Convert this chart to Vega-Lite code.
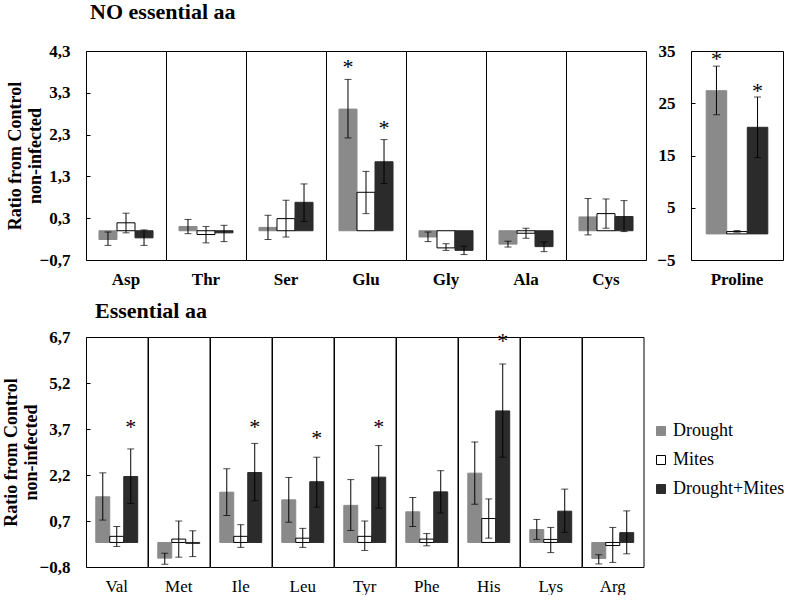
{
  "$schema": "https://vega.github.io/schema/vega-lite/v6.json",
  "padding": {"left": 2, "top": 1, "right": 0, "bottom": 0},
  "datasets": {
    "top": [
      {"aa": "Asp", "group": "Drought", "value": -0.21, "lo": -0.35, "hi": -0.03, "star": null},
      {"aa": "Asp", "group": "Mites", "value": 0.19, "lo": -0.05, "hi": 0.42, "star": null},
      {"aa": "Asp", "group": "Drought+Mites", "value": -0.17, "lo": -0.35, "hi": 0.02, "star": null},
      {"aa": "Thr", "group": "Drought", "value": 0.10, "lo": -0.07, "hi": 0.27, "star": null},
      {"aa": "Thr", "group": "Mites", "value": -0.09, "lo": -0.29, "hi": 0.10, "star": null},
      {"aa": "Thr", "group": "Drought+Mites", "value": -0.05, "lo": -0.26, "hi": 0.13, "star": null},
      {"aa": "Ser", "group": "Drought", "value": 0.08, "lo": -0.21, "hi": 0.37, "star": null},
      {"aa": "Ser", "group": "Mites", "value": 0.29, "lo": -0.15, "hi": 0.73, "star": null},
      {"aa": "Ser", "group": "Drought+Mites", "value": 0.68, "lo": 0.22, "hi": 1.12, "star": null},
      {"aa": "Glu", "group": "Drought", "value": 2.91, "lo": 2.22, "hi": 3.62, "star": 3.92},
      {"aa": "Glu", "group": "Mites", "value": 0.92, "lo": 0.41, "hi": 1.42, "star": null},
      {"aa": "Glu", "group": "Drought+Mites", "value": 1.65, "lo": 1.13, "hi": 2.18, "star": 2.46},
      {"aa": "Gly", "group": "Drought", "value": -0.15, "lo": -0.26, "hi": -0.03, "star": null},
      {"aa": "Gly", "group": "Mites", "value": -0.41, "lo": -0.47, "hi": -0.31, "star": null},
      {"aa": "Gly", "group": "Drought+Mites", "value": -0.47, "lo": -0.57, "hi": -0.37, "star": null},
      {"aa": "Ala", "group": "Drought", "value": -0.32, "lo": -0.39, "hi": -0.25, "star": null},
      {"aa": "Ala", "group": "Mites", "value": -0.06, "lo": -0.18, "hi": 0.06, "star": null},
      {"aa": "Ala", "group": "Drought+Mites", "value": -0.38, "lo": -0.50, "hi": -0.27, "star": null},
      {"aa": "Cys", "group": "Drought", "value": 0.33, "lo": -0.10, "hi": 0.77, "star": null},
      {"aa": "Cys", "group": "Mites", "value": 0.41, "lo": 0.06, "hi": 0.76, "star": null},
      {"aa": "Cys", "group": "Drought+Mites", "value": 0.34, "lo": -0.02, "hi": 0.72, "star": null}
    ],
    "pro": [
      {"aa": "Proline", "group": "Drought", "value": 27.4, "lo": 22.8, "hi": 32.1, "star": 33.4},
      {"aa": "Proline", "group": "Mites", "value": 0.44, "lo": 0.32, "hi": 0.63, "star": null},
      {"aa": "Proline", "group": "Drought+Mites", "value": 20.4, "lo": 14.6, "hi": 26.2, "star": 27.3}
    ],
    "bot": [
      {"aa": "Val", "group": "Drought", "value": 1.49, "lo": 0.73, "hi": 2.27, "star": null},
      {"aa": "Val", "group": "Mites", "value": 0.20, "lo": -0.13, "hi": 0.52, "star": null},
      {"aa": "Val", "group": "Drought+Mites", "value": 2.15, "lo": 1.27, "hi": 3.05, "star": 3.73},
      {"aa": "Met", "group": "Drought", "value": -0.51, "lo": -0.71, "hi": -0.35, "star": null},
      {"aa": "Met", "group": "Mites", "value": 0.11, "lo": -0.48, "hi": 0.70, "star": null},
      {"aa": "Met", "group": "Drought+Mites", "value": -0.03, "lo": -0.46, "hi": 0.38, "star": null},
      {"aa": "Ile", "group": "Drought", "value": 1.64, "lo": 0.88, "hi": 2.40, "star": null},
      {"aa": "Ile", "group": "Mites", "value": 0.20, "lo": -0.16, "hi": 0.58, "star": null},
      {"aa": "Ile", "group": "Drought+Mites", "value": 2.28, "lo": 1.36, "hi": 3.23, "star": 3.73},
      {"aa": "Leu", "group": "Drought", "value": 1.39, "lo": 0.66, "hi": 2.12, "star": null},
      {"aa": "Leu", "group": "Mites", "value": 0.14, "lo": -0.16, "hi": 0.46, "star": null},
      {"aa": "Leu", "group": "Drought+Mites", "value": 1.98, "lo": 1.15, "hi": 2.78, "star": 3.38},
      {"aa": "Tyr", "group": "Drought", "value": 1.21, "lo": 0.39, "hi": 2.05, "star": null},
      {"aa": "Tyr", "group": "Mites", "value": 0.20, "lo": -0.26, "hi": 0.70, "star": null},
      {"aa": "Tyr", "group": "Drought+Mites", "value": 2.13, "lo": 1.12, "hi": 3.16, "star": 3.73},
      {"aa": "Phe", "group": "Drought", "value": 1.00, "lo": 0.52, "hi": 1.47, "star": null},
      {"aa": "Phe", "group": "Mites", "value": 0.11, "lo": -0.11, "hi": 0.29, "star": null},
      {"aa": "Phe", "group": "Drought+Mites", "value": 1.65, "lo": 0.96, "hi": 2.34, "star": null},
      {"aa": "His", "group": "Drought", "value": 2.26, "lo": 1.25, "hi": 3.28, "star": null},
      {"aa": "His", "group": "Mites", "value": 0.78, "lo": 0.14, "hi": 1.42, "star": null},
      {"aa": "His", "group": "Drought+Mites", "value": 4.29, "lo": 2.78, "hi": 5.82, "star": 6.55},
      {"aa": "Lys", "group": "Drought", "value": 0.42, "lo": 0.10, "hi": 0.75, "star": null},
      {"aa": "Lys", "group": "Mites", "value": 0.10, "lo": -0.33, "hi": 0.49, "star": null},
      {"aa": "Lys", "group": "Drought+Mites", "value": 1.02, "lo": 0.33, "hi": 1.74, "star": null},
      {"aa": "Arg", "group": "Drought", "value": -0.52, "lo": -0.70, "hi": -0.40, "star": null},
      {"aa": "Arg", "group": "Mites", "value": -0.10, "lo": -0.65, "hi": 0.49, "star": null},
      {"aa": "Arg", "group": "Drought+Mites", "value": 0.32, "lo": -0.37, "hi": 1.03, "star": null}
    ]
  },
  "vconcat": [
    {
      "title": {"text": "NO essential aa", "anchor": "start", "dx": 84, "offset": 18},
      "spacing": 9,
      "hconcat": [
        {
          "data": {"name": "top"},
          "spacing": 0,
          "bounds": "flush",
          "facet": {
            "column": {
              "field": "aa", "type": "nominal", "title": null,
              "sort": ["Asp", "Thr", "Ser", "Glu", "Gly", "Ala", "Cys"],
              "header": {"labelOrient": "bottom", "labelFontWeight": "bold", "labelPadding": 12}
            }
          },
          "spec": {
            "width": 80, "height": 209,
            "encoding": {
              "x": {"field": "group", "type": "nominal", "axis": null,
                "scale": {"domain": ["Drought", "Mites", "Drought+Mites"], "paddingInner": 0, "paddingOuter": 0.72}}
            },
            "layer": [
              {
                "mark": {"type": "bar", "strokeWidth": 1},
                "encoding": {
                  "y": {"field": "value", "type": "quantitative",
                    "scale": {"domain": [-0.7, 4.3], "nice": false, "zero": false},
                    "axis": {"values": [-0.7, 0.3, 1.3, 2.3, 3.3, 4.3],
                      "labelExpr": "replace(format(datum.value, '.1f'), '.', ',')",
                      "title": ["Ratio from Control", "non-infected"]}},
                  "fill": {"field": "group", "type": "nominal",
                    "scale": {"domain": ["Drought", "Mites", "Drought+Mites"], "range": ["#8a8a8a", "#ffffff", "#2b2b2b"]}},
                  "stroke": {"field": "group", "type": "nominal",
                    "scale": {"domain": ["Drought", "Mites", "Drought+Mites"], "range": ["#8a8a8a", "#000000", "#2b2b2b"]}}
                }
              },
              {"mark": {"type": "rule", "color": "black", "strokeWidth": 1}, "encoding": {"y": {"datum": 0}}},
              {"mark": {"type": "rule", "color": "black", "strokeWidth": 1},
                "encoding": {"y": {"field": "lo", "type": "quantitative"}, "y2": {"field": "hi"}}},
              {"mark": {"type": "tick", "color": "black", "size": 7, "thickness": 1},
                "encoding": {"y": {"field": "lo", "type": "quantitative"}}},
              {"mark": {"type": "tick", "color": "black", "size": 7, "thickness": 1},
                "encoding": {"y": {"field": "hi", "type": "quantitative"}}},
              {"transform": [{"filter": "datum.star != null"}],
                "mark": {"type": "text", "text": "*", "fontSize": 22, "baseline": "middle", "dy": 0},
                "encoding": {"y": {"field": "star", "type": "quantitative"}}}
            ]
          }
        },
        {
          "data": {"name": "pro"},
          "spacing": 0,
          "bounds": "flush",
          "facet": {
            "column": {
              "field": "aa", "type": "nominal", "title": null,
              "header": {"labelOrient": "bottom", "labelFontWeight": "bold", "labelPadding": 12}
            }
          },
          "spec": {
            "width": 92, "height": 209,
            "encoding": {
              "x": {"field": "group", "type": "nominal", "axis": null,
                "scale": {"domain": ["Drought", "Mites", "Drought+Mites"], "paddingInner": 0, "paddingOuter": 0.74}}
            },
            "layer": [
              {
                "mark": {"type": "bar", "strokeWidth": 1},
                "encoding": {
                  "y": {"field": "value", "type": "quantitative",
                    "scale": {"domain": [-5, 35], "nice": false, "zero": false},
                    "axis": {"values": [-5, 5, 15, 25, 35], "format": "d", "title": null}},
                  "fill": {"field": "group", "type": "nominal",
                    "scale": {"domain": ["Drought", "Mites", "Drought+Mites"], "range": ["#8a8a8a", "#ffffff", "#2b2b2b"]}},
                  "stroke": {"field": "group", "type": "nominal",
                    "scale": {"domain": ["Drought", "Mites", "Drought+Mites"], "range": ["#8a8a8a", "#000000", "#2b2b2b"]}}
                }
              },
              {"mark": {"type": "rule", "color": "black", "strokeWidth": 1}, "encoding": {"y": {"datum": 0}}},
              {"mark": {"type": "rule", "color": "black", "strokeWidth": 1},
                "encoding": {"y": {"field": "lo", "type": "quantitative"}, "y2": {"field": "hi"}}},
              {"mark": {"type": "tick", "color": "black", "size": 7, "thickness": 1},
                "encoding": {"y": {"field": "lo", "type": "quantitative"}}},
              {"mark": {"type": "tick", "color": "black", "size": 7, "thickness": 1},
                "encoding": {"y": {"field": "hi", "type": "quantitative"}}},
              {"transform": [{"filter": "datum.star != null"}],
                "mark": {"type": "text", "text": "*", "fontSize": 22, "baseline": "middle", "dy": 0},
                "encoding": {"y": {"field": "star", "type": "quantitative"}}}
            ]
          }
        }
      ]
    },
    {
      "title": {"text": "Essential aa", "anchor": "start", "dx": 93, "offset": 5},
      "data": {"name": "bot"},
      "spacing": 0,
      "bounds": "flush",
      "facet": {
        "column": {
          "field": "aa", "type": "nominal", "title": null,
          "sort": ["Val", "Met", "Ile", "Leu", "Tyr", "Phe", "His", "Lys", "Arg"],
          "header": {"labelOrient": "bottom", "labelFontWeight": "normal", "labelPadding": 12}
        }
      },
      "spec": {
        "width": 61.5, "height": 230,
        "encoding": {
          "x": {"field": "group", "type": "nominal", "axis": null,
            "scale": {"domain": ["Drought", "Mites", "Drought+Mites"], "paddingInner": 0, "paddingOuter": 0.7}}
        },
        "layer": [
          {
            "mark": {"type": "bar", "strokeWidth": 1},
            "encoding": {
              "y": {"field": "value", "type": "quantitative",
                "scale": {"domain": [-0.8, 6.7], "nice": false, "zero": false},
                "axis": {"values": [-0.8, 0.7, 2.2, 3.7, 5.2, 6.7],
                  "labelExpr": "replace(format(datum.value, '.1f'), '.', ',')",
                  "title": ["Ratio from Control", "non-infected"], "titlePadding": -1}},
              "fill": {"field": "group", "type": "nominal",
                "scale": {"domain": ["Drought", "Mites", "Drought+Mites"], "range": ["#8a8a8a", "#ffffff", "#2b2b2b"]}},
              "stroke": {"field": "group", "type": "nominal",
                "scale": {"domain": ["Drought", "Mites", "Drought+Mites"], "range": ["#8a8a8a", "#000000", "#2b2b2b"]}}
            }
          },
          {"mark": {"type": "rule", "color": "black", "strokeWidth": 1}, "encoding": {"y": {"datum": 0}}},
          {"mark": {"type": "rule", "color": "black", "strokeWidth": 1},
            "encoding": {"y": {"field": "lo", "type": "quantitative"}, "y2": {"field": "hi"}}},
          {"mark": {"type": "tick", "color": "black", "size": 7, "thickness": 1},
            "encoding": {"y": {"field": "lo", "type": "quantitative"}}},
          {"mark": {"type": "tick", "color": "black", "size": 7, "thickness": 1},
            "encoding": {"y": {"field": "hi", "type": "quantitative"}}},
          {"transform": [{"filter": "datum.star != null"}],
            "mark": {"type": "text", "text": "*", "fontSize": 22, "baseline": "middle", "dy": -1},
            "encoding": {"y": {"field": "star", "type": "quantitative"}}}
        ]
      }
    }
  ],
  "spacing": 12,
  "config": {
    "font": "Liberation Serif",
    "view": {"stroke": "black", "strokeWidth": 1},
    "title": {"font": "Liberation Serif", "fontSize": 22, "fontWeight": "bold", "color": "black"},
    "header": {"labelFont": "Liberation Serif", "labelFontSize": 17, "labelColor": "black", "labelBaseline": "top"},
    "axisY": {
      "domain": false, "grid": false, "ticks": true, "tickSize": -4, "tickColor": "black",
      "labelFont": "Liberation Serif", "labelFontSize": 17, "labelFontWeight": "bold", "labelColor": "black",
      "labelPadding": 20, "titleFont": "Liberation Serif", "titleFontSize": 18, "titleFontWeight": "bold",
      "titleColor": "black", "titlePadding": -5
    },
    "legend": {
      "orient": "none", "legendX": 566, "legendY": 371, "title": null,
      "symbolType": "square", "symbolSize": 81, "symbolStrokeWidth": 1,
      "labelFont": "Liberation Serif", "labelFontSize": 18, "labelColor": "black",
      "labelOffset": 3, "rowPadding": 11
    }
  }
}
